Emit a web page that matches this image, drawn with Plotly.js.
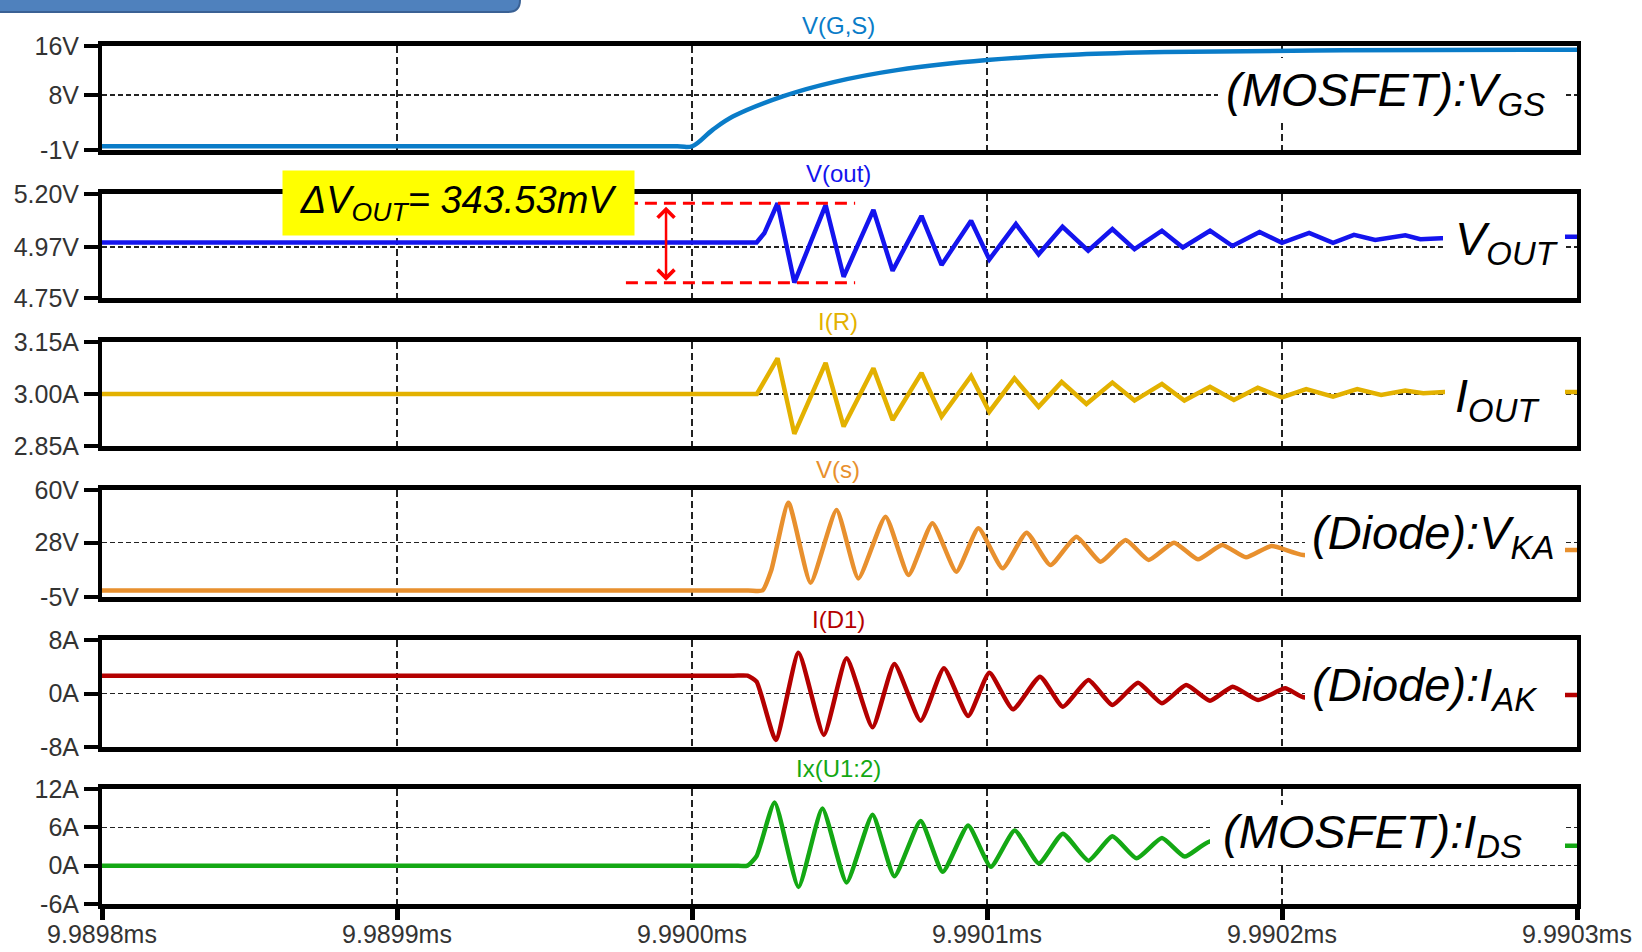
<!DOCTYPE html>
<html><head><meta charset="utf-8">
<script src="https://cdn.plot.ly/plotly-3.0.1.min.js"></script>
<style>html,body{margin:0;padding:0;background:#fff;}#chart{width:1642px;height:952px;}</style>
</head><body><div id="chart"></div>
<script>
// ---------- DATA ----------
const T0 = 9.9898;          // ms, left edge of time window
const NS = 1e-6;            // 1 ns expressed in ms
const xTickVals = [9.9898, 9.9899, 9.9900, 9.9901, 9.9902, 9.9903];
const xTickText = ['9.9898ms','9.9899ms','9.9900ms','9.9901ms','9.9902ms','9.9903ms'];

// time after 9.9898 ms, in ns
const vgsNs = [0, 195, 200, 207, 214, 231, 248, 270, 300, 331, 360, 421, 500];
const vgsV  = [-0.4, -0.4, -0.4, 2.3, 4.5, 7.8, 10.1, 12.1, 13.7, 14.6, 15.0, 15.3, 15.4];
const vgsTicks = [16, 8, -1];
const vgsTickText = ['16V', '8V', '-1V'];

const voutNs = [0, 221.9, 224.5, 229, 234.7, 245.3, 251.4, 261.5, 268, 277.8, 284.6, 294.6, 300.8, 309.8, 317.5, 325.6, 334.3, 342.5, 350, 359.3, 366.4, 375.6, 383.2, 392.4, 400, 409.2, 417.3, 424.4, 431.6, 441.8, 446.9, 454, 494, 500];
const voutV  = [4.99, 4.99, 5.03, 5.16, 4.8165, 5.152, 4.842, 5.131, 4.868, 5.105, 4.893, 5.084, 4.917, 5.070, 4.939, 5.058, 4.955, 5.048, 4.961, 5.041, 4.969, 5.041, 4.975, 5.036, 4.989, 5.032, 4.989, 5.023, 5.001, 5.021, 5.004, 5.008, 5.015, 5.015];
const voutTicks = [5.20, 4.97, 4.75];
const voutTickText = ['5.20V', '4.97V', '4.75V'];

const irNs = [0, 222, 229, 234.7, 245.3, 251.4, 261.5, 268, 277.8, 284.6, 294.6, 300.8, 309.3, 317.5, 325.3, 333.7, 342.5, 350, 359.3, 366.9, 375.6, 383.7, 391.8, 400, 408.2, 417.3, 425.5, 433.6, 441.8, 447.9, 455, 494, 500];
const irA  = [3.00, 3.00, 3.103, 2.885, 3.090, 2.906, 3.074, 2.925, 3.061, 2.935, 3.052, 2.949, 3.045, 2.963, 3.035, 2.971, 3.033, 2.981, 3.029, 2.981, 3.021, 2.983, 3.018, 2.990, 3.014, 2.992, 3.014, 2.997, 3.010, 3.002, 3.006, 3.006, 3.006];
const irTicks = [3.15, 3.00, 2.85];
const irTickText = ['3.15A', '3.00A', '2.85A'];

const vsNs = [0, 219, 223.9, 226.9, 232.7, 240.2, 249, 256.4, 265.6, 273.4, 281.5, 289.6, 297.1, 305.3, 313.4, 321.5, 330.3, 338.5, 347, 354.8, 363.4, 371.5, 379.7, 387.8, 396.4, 407.2, 494, 500];
const vsV  = [-1, -1, -1, 11.4, 52.3, 3.7, 47.8, 6.3, 43.8, 8.4, 39.8, 10.4, 36.7, 12.4, 34.1, 14.4, 31.6, 16.4, 29.6, 17.5, 28.0, 17.9, 26.6, 19.1, 26.0, 20.5, 23.5, 23.5];
const vsTicks = [60, 28, -5];
const vsTickText = ['60V', '28V', '-5V'];

const id1Ns = [0, 214, 218.8, 221.9, 228.4, 236.1, 244.7, 252.4, 261.2, 268.6, 277.5, 285.4, 293.6, 300.8, 308.8, 318, 325.7, 334.4, 342.5, 351.2, 359.3, 367.5, 375.6, 383.3, 391.9, 401.1, 407.2, 495, 500];
const id1A  = [2.66, 2.66, 2.66, 1.77, -6.95, 6.1, -6.2, 5.26, -5.05, 4.41, -4.06, 3.77, -3.36, 3.11, -2.36, 2.51, -1.97, 2.02, -1.72, 1.62, -1.46, 1.27, -1.07, 1.02, -0.97, 0.78, -0.56, -0.22, -0.22];
const id1Ticks = [8, 0, -8];
const id1TickText = ['8A', '0A', '-8A'];

const idsNs = [0, 214, 218.8, 221.9, 228, 236.1, 244.2, 252.4, 261.2, 268.6, 277.5, 285, 293.6, 301.3, 309.4, 317.6, 325.7, 334.4, 342.5, 350.7, 359.3, 367, 375.6, 494, 500];
const idsA  = [0, 0, 0, 1.5, 9.89, -3.35, 8.93, -2.62, 7.98, -1.66, 6.98, -0.97, 6.28, -0.17, 5.49, 0.35, 5.0, 0.78, 4.6, 1.15, 4.33, 1.42, 3.8, 3.1, 3.1];
const idsTicks = [12, 6, 0, -6];
const idsTickText = ['12A', '6A', '0A', '-6A'];

const traceNames = ['V(G,S)', 'V(out)', 'I(R)', 'V(s)', 'I(D1)', 'Ix(U1:2)'];
const sideLabels = ['(MOSFET):V<sub>GS</sub>', 'V<sub>OUT</sub>', 'I<sub>OUT</sub>', '(Diode):V<sub>KA</sub>', '(Diode):I<sub>AK</sub>', '(MOSFET):I<sub>DS</sub>'];
const deltaLabel = 'ΔV<sub>OUT</sub>= 343.53mV';

// ---------- STYLE / LAYOUT ----------
const FONT = 'Liberation Sans, Arial, sans-serif';
const PX = {l:102, r:65, t:46, b:48, W:1642, H:952};
const plotW = PX.W - PX.l - PX.r;
const plotH = PX.H - PX.t - PX.b;
const px2x = x => (x - PX.l) / plotW;
const px2y = y => (PX.H - PX.b - y) / plotH;
const panelPx = [[46,150],[194,298],[342,446],[490,597],[640,747],[789,904]];

const series = [
  {ns: vgsNs,  val: vgsV,  range: [-1, 16],     tv: vgsTicks,  tt: vgsTickText,  color: '#0A7CC8', shape: 'spline', sm: 1.0},
  {ns: voutNs, val: voutV, range: [4.75, 5.20], tv: voutTicks, tt: voutTickText, color: '#1414EE', shape: 'linear'},
  {ns: irNs,   val: irA,   range: [2.85, 3.15], tv: irTicks,   tt: irTickText,   color: '#E3B100', shape: 'linear'},
  {ns: vsNs,   val: vsV,   range: [-5, 60],     tv: vsTicks,   tt: vsTickText,   color: '#E8902E', shape: 'spline', sm: 0.5},
  {ns: id1Ns,  val: id1A,  range: [-8, 8],      tv: id1Ticks,  tt: id1TickText,  color: '#B40000', shape: 'spline', sm: 0.5},
  {ns: idsNs,  val: idsA,  range: [-6, 12],     tv: idsTicks,  tt: idsTickText,  color: '#14A814', shape: 'spline', sm: 0.5}
];

// label text positions (left px, centre y px) and white cover boxes [x0,y0,x1,y1]
const sidePos = [[1224,93],[1453,242],[1453,399],[1310,536],[1310,688],[1221,835]];
const covers = [[1218,58,1565,123],[1443,205,1565,280],[1445,362,1565,425],[1305,503,1565,568],[1305,658,1565,716],[1210,805,1565,862]];

const traces = series.map((s, i) => ({
  type: 'scatter', mode: 'lines',
  x: s.ns.map(n => T0 + n * NS), y: s.val,
  xaxis: i ? 'x' + (i + 1) : 'x', yaxis: i ? 'y' + (i + 1) : 'y',
  line: {color: s.color, width: 4.5, shape: s.shape, smoothing: s.sm || 0},
  hoverinfo: 'skip', showlegend: false
}));

const layout = {
  width: PX.W, height: PX.H,
  margin: {l: PX.l, r: PX.r, t: PX.t, b: PX.b, pad: 0},
  paper_bgcolor: '#fff', plot_bgcolor: '#fff',
  font: {family: FONT, color: '#333', size: 25},
  showlegend: false,
  annotations: [], shapes: []
};

panelPx.forEach((p, i) => {
  const k = i === 0 ? '' : String(i + 1);
  const s = series[i];
  const last = i === panelPx.length - 1;
  layout['xaxis' + k] = {
    domain: [0, 1], range: [T0, T0 + 500 * NS], anchor: 'y' + k,
    matches: i ? 'x' : undefined,
    tickmode: 'array', tickvals: xTickVals, ticktext: xTickText,
    showticklabels: last, ticks: last ? 'outside' : '', ticklen: 11, tickwidth: 5, tickcolor: '#000',
    ticklabelstandoff: -7,
    tickfont: {family: FONT, size: 25, color: '#333'},
    showgrid: true, gridcolor: '#222', gridwidth: 1.5, griddash: '7px,4px',
    showline: true, mirror: true, linecolor: '#000', linewidth: 5,
    zeroline: false, fixedrange: true
  };
  layout['yaxis' + k] = {
    domain: [px2y(p[1]), px2y(p[0])], range: s.range, anchor: 'x' + k,
    tickmode: 'array', tickvals: s.tv, ticktext: s.tt,
    ticks: 'outside', ticklen: 14, tickwidth: 4, tickcolor: '#000',
    tickfont: {family: FONT, size: 25, color: '#333'},
    showgrid: true, gridcolor: '#222', gridwidth: 1.5, griddash: '5px,3px',
    showline: true, mirror: true, linecolor: '#000', linewidth: 4,
    zeroline: false, fixedrange: true
  };
  // trace name above panel
  layout.annotations.push({
    text: traceNames[i], xref: 'paper', x: px2x(838), yref: 'y' + k + ' domain', y: 1,
    xanchor: 'center', yanchor: 'bottom', yshift: 5, showarrow: false,
    font: {family: FONT, size: 24, color: s.color}
  });
  // white cover box behind the big label
  const c = covers[i];
  layout.shapes.push({type: 'rect', xref: 'paper', yref: 'paper', layer: 'above',
    x0: px2x(c[0]), x1: px2x(c[2]), y0: px2y(c[3]), y1: px2y(c[1]),
    fillcolor: '#fff', line: {width: 0}});
  // big italic label
  layout.annotations.push({
    text: '<i>' + sideLabels[i] + '</i>', xref: 'paper', yref: 'paper',
    x: px2x(sidePos[i][0]), y: px2y(sidePos[i][1]), xanchor: 'left', yanchor: 'middle',
    showarrow: false, font: {family: FONT, size: 47, color: '#000'}
  });
});

// ΔV markers derived from V(out) extremes
const vMax = Math.max(...voutV), vMin = Math.min(...voutV);
const dashX0 = T0 + 177.6 * NS, dashX1 = T0 + 255.3 * NS, arrowX = T0 + 191.2 * NS;
[vMax, vMin].forEach(v => layout.shapes.push({
  type: 'line', xref: 'x2', yref: 'y2', x0: dashX0, x1: dashX1, y0: v, y1: v,
  line: {color: '#FF0000', width: 3, dash: '12px,7px'}, layer: 'above'
}));
layout.annotations.push({
  xref: 'x2', yref: 'y2', axref: 'x2', ayref: 'y2',
  x: arrowX, y: vMin, ax: arrowX, ay: vMax, text: '',
  showarrow: true, arrowside: 'end+start', arrowhead: 4, startarrowhead: 4,
  arrowsize: 1.3, startarrowsize: 1.3, arrowwidth: 2.5, arrowcolor: '#FF0000',
  standoff: 2, startstandoff: 2
});
// yellow ΔV box
layout.annotations.push({
  text: '<i>' + deltaLabel + '</i>', xref: 'paper', yref: 'paper',
  x: px2x(458.5), y: px2y(203), xanchor: 'center', yanchor: 'middle',
  width: 351, height: 64, borderpad: 0, bgcolor: '#FFFF00', showarrow: false,
  font: {family: FONT, size: 38, color: '#000'}
});
// top-left blue banner
const bx = px2x, by = px2y;
layout.shapes.push({
  type: 'path', xref: 'paper', yref: 'paper', layer: 'above',
  path: `M ${bx(-20)},${by(-20)} L ${bx(520)},${by(-20)} L ${bx(520)},${by(0)} Q ${bx(520)},${by(12)} ${bx(508)},${by(12)} L ${bx(-20)},${by(12)} Z`,
  fillcolor: '#4F81BD', line: {color: '#3A6194', width: 2}
});

Plotly.newPlot('chart', traces, layout, {displayModeBar: false, staticPlot: true});
</script>
</body></html>
